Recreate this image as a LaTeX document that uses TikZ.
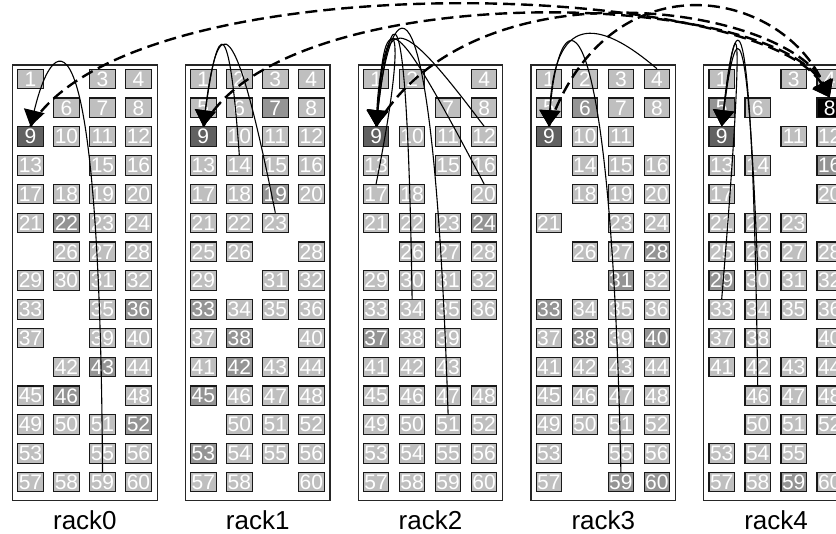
\documentclass[tikz,border=0pt]{standalone}
\usepackage{fontspec}
\setmainfont{Liberation Sans}
\usetikzlibrary{arrows.meta}
\colorlet{shadeL}{black!25}
\colorlet{shadeM}{black!42}
\colorlet{shadeD}{black!62}
\colorlet{shadeK}{black}

\begin{document}
\begin{tikzpicture}[x=1pt,y=1pt,
  slot/.style={draw=black!90,line width=1.1pt,minimum width=25.5pt,minimum height=19.5pt,
    inner sep=0pt,text=white,font=\fontsize{21}{21}\selectfont},
  rackbox/.style={draw=black!85,line width=1.3pt,minimum width=144.6pt,minimum height=435.7pt},
  racklabel/.style={inner sep=0pt,font=\fontsize{26}{26}\selectfont},
  arc/.style={line width=1.1pt,-{Triangle[length=16pt,width=21pt]}},
  link/.style={line width=2.4pt,dash pattern=on 12pt off 6pt,-{Triangle[length=16pt,width=21pt]}}]
  \clip (0,0) rectangle (836,-534);
  % racks with their slots (x = empty slot)
  \foreach \r/\codes in {
    0/{L,x,L,L,x,L,L,L,D,L,L,L,L,x,L,L,L,L,L,L,L,M,L,L,x,L,L,L,L,L,L,L,
       L,x,L,M,L,x,L,L,x,L,M,L,L,M,x,L,L,L,L,M,L,x,L,L,L,L,L,L},
    1/{L,L,L,L,L,L,M,L,D,L,L,L,L,L,L,L,L,L,M,L,L,L,L,x,L,L,x,L,L,x,L,L,
       M,L,L,L,L,M,x,L,L,M,L,L,M,L,L,L,x,L,L,L,M,L,L,L,L,L,x,L},
    2/{L,L,x,L,x,x,L,L,D,L,L,L,L,x,L,L,L,L,x,L,L,L,L,M,x,L,L,L,L,L,L,L,
       L,L,L,L,M,L,L,x,L,L,L,x,L,L,L,L,L,L,L,L,L,L,L,L,L,L,L,L},
    3/{L,L,L,L,L,M,L,L,D,L,L,x,x,L,L,L,x,L,L,L,L,x,L,L,x,L,L,M,x,x,M,L,
       M,L,L,L,L,M,L,M,L,L,L,L,L,L,L,L,L,L,L,L,L,x,L,L,L,x,M,M},
    4/{L,x,L,L,M,L,x,K,D,x,L,L,L,L,x,M,L,x,x,L,L,L,L,x,L,L,L,L,M,L,L,L,
       L,L,L,L,L,L,x,L,L,L,L,L,x,L,L,L,x,L,L,L,L,L,L,x,L,L,M,L}} {
    \pgfmathsetmacro\rx{12.6+172.8*\r}
    \node[rackbox] (rack\r) at (\rx+72.3,-282.85) {};
    \node[racklabel] (label\r) at (\rx+72.3,-520) {rack\r};
    \foreach \s [count=\n] in \codes {
      \if\s x\else
        \pgfmathsetmacro\cx{\rx+17.9+36*mod(\n-1,4)}
        \pgfmathsetmacro\cy{-79-28.8*int((\n-1)/4)}
        \node[slot,fill=shade\s] (r\r s\n) at (\cx,\cy) {\n};
      \fi
    }
  }
  % links to rack4 slot 8
  \draw[link] (r0s9.north) .. controls +(100,167) and +(-70,118) .. (r4s8.north);
  \draw[link] (r1s9.north) .. controls +(80,150) and +(-60,110) .. (r4s8.north);
  \draw[link] (r2s9.north) .. controls +(100,170) and +(-40,90) .. (r4s8.north);
  \draw[link] (r3s9.north) .. controls +(60,170) and +(-50,110) .. (r4s8.north);
  % moves to slot 9 inside each rack
  \draw[arc] (r0s59.north) .. controls +(-2.5,472) and +(24.5,102) .. (r0s9.north);
  \draw[arc] (r1s14.north) .. controls +(-10,140) and +(15,110) .. (r1s9.north);
  \draw[arc] (r1s23.north) .. controls +(-40,200) and +(15,120) .. (r1s9.north);
  \draw[arc] (r2s12.north) .. controls +(-90,120) and +(10,110) .. (r2s9.north);
  \draw[arc] (r2s20.north) .. controls +(-100,190) and +(10,113) .. (r2s9.north);
  \draw[arc] (r2s17.north) .. controls +(40,200) and +(5,103) .. (r2s9.north);
  \draw[arc] (r2s34.north) .. controls +(-5,330) and +(15,127) .. (r2s9.north);
  \draw[arc] (r2s51.north) .. controls +(-15,470) and +(15,140) .. (r2s9.north);
  \draw[arc] (r3s4.north) .. controls +(-70,60) and +(5,100) .. (r3s9.north);
  \draw[arc] (r3s59.north) .. controls +(-10,500) and +(10,134) .. (r3s9.north);
  \draw[arc] (r4s30.north) .. controls +(-10,260) and +(15,116) .. (r4s9.north);
  \draw[arc] (r4s46.north) .. controls +(-5,390) and +(15,139) .. (r4s9.north);
  \draw[arc] (r4s33.north) .. controls +(25,300) and +(15,124) .. (r4s9.north);
\end{tikzpicture}
\end{document}
